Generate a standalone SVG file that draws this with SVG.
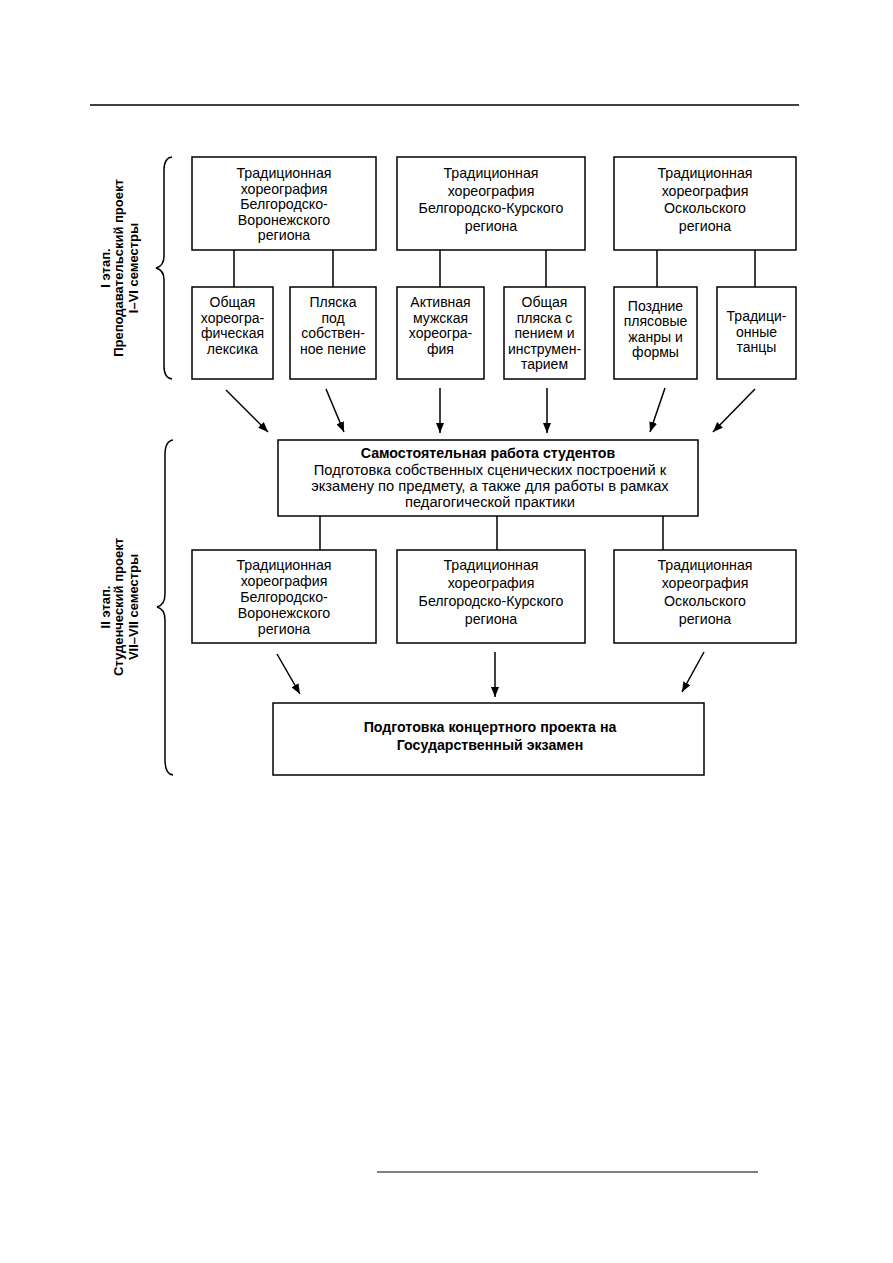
<svg xmlns="http://www.w3.org/2000/svg" width="893" height="1263" viewBox="0 0 893 1263">
<defs>
<style>
.box{fill:#fff;stroke:#000;stroke-width:1.5}
.t{font-family:"Liberation Sans",Arial,sans-serif;font-size:14.2px;text-anchor:middle;fill:#000}
.s{font-size:14px}
.m{font-size:14.7px}
.r{font-size:13px;font-weight:bold}
.b{font-weight:bold}
.ln{stroke:#000;stroke-width:1.5;fill:none}
.ar{stroke:#000;stroke-width:1.5;fill:none;marker-end:url(#ah)}
</style>
<marker id="ah" markerUnits="userSpaceOnUse" markerWidth="11" markerHeight="8" refX="10" refY="4" orient="auto">
<path d="M0,0 L10,4 L0,8 z" fill="#000"/>
</marker>
</defs>
<rect width="893" height="1263" fill="#fff"/>
<line x1="90" y1="105" x2="799" y2="105" stroke="#000" stroke-width="1.5"/>
<line x1="377" y1="1172" x2="758" y2="1172" stroke="#000" stroke-width="1"/>

<g id="stage1-label">
<path class="ln" d="M172,157 Q164,158 164,170 L164,256 Q164,266 156,268 Q164,270 164,280 L164,366 Q164,378 172,379"/>
<text class="t r" transform="translate(110,268) rotate(-90)">I этап.</text>
<text class="t r" transform="translate(123,268) rotate(-90)">Преподавательский проект</text>
<text class="t r" transform="translate(138,268) rotate(-90)">I–VI семестры</text>
</g>
<g id="stage2-label">
<path class="ln" d="M173,440 Q165,441 165,455 L165,594 Q165,605 157,607 Q165,609 165,620 L165,760 Q165,774 173,775"/>
<text class="t r" transform="translate(110,607) rotate(-90)">II этап.</text>
<text class="t r" transform="translate(123,607) rotate(-90)">Студенческий проект</text>
<text class="t r" transform="translate(138,607) rotate(-90)">VII–VII семестры</text>
</g>

<g id="connectors">
<line class="ln" x1="234" y1="250" x2="234" y2="287"/>
<line class="ln" x1="333" y1="250" x2="333" y2="287"/>
<line class="ln" x1="440" y1="250" x2="440" y2="287"/>
<line class="ln" x1="546" y1="250" x2="546" y2="287"/>
<line class="ln" x1="657" y1="250" x2="657" y2="287"/>
<line class="ln" x1="755" y1="250" x2="755" y2="287"/>
<line class="ar" x1="226" y1="390" x2="268" y2="432"/>
<line class="ar" x1="326" y1="389" x2="344" y2="432"/>
<line class="ar" x1="440" y1="388" x2="440" y2="433"/>
<line class="ar" x1="547" y1="388" x2="547" y2="433"/>
<line class="ar" x1="665" y1="388" x2="650" y2="432"/>
<line class="ar" x1="755" y1="389" x2="713" y2="432"/>
<line class="ln" x1="320" y1="516" x2="320" y2="550"/>
<line class="ln" x1="497" y1="516" x2="497" y2="550"/>
<line class="ln" x1="663" y1="516" x2="663" y2="550"/>
<line class="ar" x1="277" y1="654" x2="300" y2="694"/>
<line class="ar" x1="495" y1="652" x2="495" y2="697"/>
<line class="ar" x1="704" y1="652" x2="682" y2="692"/>
</g>

<g id="top1">
<rect class="box" x="192" y="157" width="184" height="93"/>
<text class="t" x="284" y="178">Традиционная</text>
<text class="t" x="284" y="193.5">хореография</text>
<text class="t" x="284" y="209">Белгородско-</text>
<text class="t" x="284" y="224.5">Воронежского</text>
<text class="t" x="284" y="240">региона</text>
</g>
<g id="top2">
<rect class="box" x="397" y="157" width="188" height="93"/>
<text class="t" x="491" y="178">Традиционная</text>
<text class="t" x="491" y="195.5">хореография</text>
<text class="t" x="491" y="213">Белгородско-Курского</text>
<text class="t" x="491" y="230.5">региона</text>
</g>
<g id="top3">
<rect class="box" x="614" y="157" width="182" height="93"/>
<text class="t" x="705" y="178">Традиционная</text>
<text class="t" x="705" y="195.5">хореография</text>
<text class="t" x="705" y="213">Оскольского</text>
<text class="t" x="705" y="230.5">региона</text>
</g>

<g id="sub-a">
<rect class="box" x="192" y="287" width="81" height="92"/>
<text class="t s" x="232.5" y="307">Общая</text>
<text class="t s" x="232.5" y="322.5">хореогра-</text>
<text class="t s" x="232.5" y="338">фическая</text>
<text class="t s" x="232.5" y="353.5">лексика</text>
</g>
<g id="sub-b">
<rect class="box" x="290" y="287" width="86" height="92"/>
<text class="t s" x="333" y="307">Пляска</text>
<text class="t s" x="333" y="322.5">под</text>
<text class="t s" x="333" y="338">собствен-</text>
<text class="t s" x="333" y="353.5">ное пение</text>
</g>
<g id="sub-c">
<rect class="box" x="397" y="287" width="87" height="92"/>
<text class="t s" x="440.5" y="307">Активная</text>
<text class="t s" x="440.5" y="322.5">мужская</text>
<text class="t s" x="440.5" y="338">хореогра-</text>
<text class="t s" x="440.5" y="353.5">фия</text>
</g>
<g id="sub-d">
<rect class="box" x="504" y="287" width="81" height="92"/>
<text class="t s" x="544.5" y="307">Общая</text>
<text class="t s" x="544.5" y="322.5">пляска с</text>
<text class="t s" x="544.5" y="338">пением и</text>
<text class="t s" x="544.5" y="353.5">инструмен-</text>
<text class="t s" x="544.5" y="369">тарием</text>
</g>
<g id="sub-e">
<rect class="box" x="614" y="287" width="83" height="92"/>
<text class="t s" x="655.5" y="310.5">Поздние</text>
<text class="t s" x="655.5" y="326">плясовые</text>
<text class="t s" x="655.5" y="341.5">жанры и</text>
<text class="t s" x="655.5" y="357">формы</text>
</g>
<g id="sub-f">
<rect class="box" x="717" y="287" width="79" height="92"/>
<text class="t s" x="756.5" y="321">Традици-</text>
<text class="t s" x="756.5" y="336.5">онные</text>
<text class="t s" x="756.5" y="352">танцы</text>
</g>

<g id="self-work">
<rect class="box" x="278" y="440" width="420" height="76"/>
<text class="t b" x="488" y="457.5">Самостоятельная работа студентов</text>
<text class="t m" x="490" y="475">Подготовка собственных сценических построений к</text>
<text class="t m" x="490" y="491">экзамену по предмету, а также для работы в рамках</text>
<text class="t m" x="490" y="507">педагогической практики</text>
</g>

<g id="mid1">
<rect class="box" x="192" y="550" width="184" height="93"/>
<text class="t" x="284" y="569.5">Традиционная</text>
<text class="t" x="284" y="585.5">хореография</text>
<text class="t" x="284" y="601.5">Белгородско-</text>
<text class="t" x="284" y="617.5">Воронежского</text>
<text class="t" x="284" y="633.5">региона</text>
</g>
<g id="mid2">
<rect class="box" x="397" y="550" width="188" height="93"/>
<text class="t" x="491" y="570">Традиционная</text>
<text class="t" x="491" y="588">хореография</text>
<text class="t" x="491" y="606">Белгородско-Курского</text>
<text class="t" x="491" y="624">региона</text>
</g>
<g id="mid3">
<rect class="box" x="614" y="550" width="182" height="93"/>
<text class="t" x="705" y="570">Традиционная</text>
<text class="t" x="705" y="588">хореография</text>
<text class="t" x="705" y="606">Оскольского</text>
<text class="t" x="705" y="624">региона</text>
</g>

<g id="final">
<rect class="box" x="273" y="703" width="431" height="72"/>
<text class="t b" x="490" y="731.5">Подготовка концертного проекта на</text>
<text class="t b" x="490" y="749.5">Государственный экзамен</text>
</g>
</svg>
